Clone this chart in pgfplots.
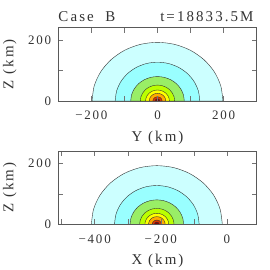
\documentclass[border=0pt]{standalone}
\usepackage{fontspec}
\setmainfont{Liberation Serif}
\newfontfamily\tickfont{Liberation Serif}[LetterSpace=14]
\newfontfamily\labfont{Liberation Serif}[LetterSpace=14]
\newfontfamily\titfont{Liberation Serif}[LetterSpace=14]
\usepackage{pgfplots}
\usepackage{pgfplotstable}
\pgfplotsset{compat=1.18}
\definecolor{cA}{HTML}{CCFFFF}
\definecolor{cB}{HTML}{99FFFF}
\definecolor{cC}{HTML}{99EE66}
\definecolor{cD}{HTML}{BBFF00}
\definecolor{cE}{HTML}{FFFF00}
\definecolor{cF}{HTML}{FFAA00}
\definecolor{cG}{HTML}{DD3300}
\definecolor{cH}{HTML}{880000}
\pgfplotstableread{
x y
198 0
191.3 49.7
171.5 96
140 135.7
99 166.3
51.3 185.5
0 192
-51.3 185.5
-99 166.3
-140 135.7
-171.5 96
-191.3 49.7
-198 0
}\cA
\pgfplotstableread{
x y
128 0
123.6 32.9
110.8 63.5
90.5 89.8
64 110
33.2 122.7
0 127
-33.2 122.7
-64 110
-90.5 89.8
-110.8 63.5
-123.6 32.9
-128 0
}\cB
\pgfplotstableread{
x y
81 0
78.2 20.7
70.1 40
57.3 56.6
40.5 69.3
21 77.3
0 80
-21 77.3
-40.5 69.3
-57.3 56.6
-70.1 40
-78.2 20.7
-81 0
}\cC
\pgfplotstableread{
x y
52 0
50.2 13.5
45 26
36.8 36.8
26 45
13.5 50.2
0 52
-13.5 50.2
-26 45
-36.8 36.8
-45 26
-50.2 13.5
-52 0
}\cD
\pgfplotstableread{
x y
36 0
34.8 9.3
31.2 18
25.5 25.5
18 31.2
9.3 34.8
0 36
-9.3 34.8
-18 31.2
-25.5 25.5
-31.2 18
-34.8 9.3
-36 0
}\cE
\pgfplotstableread{
x y
25 0
24.2 6.5
21.7 12.5
17.7 17.7
12.5 21.7
6.5 24.2
0 25
-6.5 24.2
-12.5 21.7
-17.7 17.7
-21.7 12.5
-24.2 6.5
-25 0
}\cF
\pgfplotstableread{
x y
14 0
12.1 7
7 12.1
0 14
-7 12.1
-12.1 7
-14 0
}\cG
\pgfplotstableread{
x y
7 0
6.1 3.5
3.5 6.1
0 7
-3.5 6.1
-6.1 3.5
-7 0
}\cH
\pgfplotsset{
  panel/.style={
    scale only axis, width=198.4bp, height=73.3bp,
    ymin=0, ymax=240,
    ytick={0,200}, yticklabels={0,200}, minor ytick={100},
    tick align=inside, major tick length=5bp, minor tick length=5bp,
    every tick/.style={black!55, thin},
    axis line style={black!65, thin},
    clip mode=individual,
    xticklabel style={font=\tickfont\fontsize{13}{13}\selectfont, text=black!80,
      anchor=center, inner sep=0pt, yshift=-14.5bp},
    yticklabel style={font=\tickfont\fontsize{13}{13}\selectfont, text=black!80,
      anchor=east, inner sep=0pt, xshift=-7bp},
    label style={font=\labfont\fontsize{15}{15}\selectfont, text=black!80},
    xlabel style={at={(rel axis cs:0.5,0)}, anchor=center, yshift=-36.5bp},
    ylabel style={at={(rel axis cs:-0.245,0.5)}, anchor=center},
    axis on top,
    ylabel={Z (km)},
  },
  contour/.style={draw=black!80, line width=0.4pt, smooth, fill=#1},
}
\begin{document}
\begin{tikzpicture}
\path[use as bounding box] (0,0) rectangle (270bp,270bp);
\begin{axis}[panel, at={(58.3bp,169bp)}, anchor=south west,
  xmin=-300, xmax=300, xtick={-200,0,200}, xticklabels={−200,0,200},
  minor xtick={-100,100},
  xlabel={Y (km)}]
\addplot[contour=cA] table {\cA} -- cycle;
\addplot[contour=cB] table {\cB} -- cycle;
\addplot[contour=cC] table {\cC} -- cycle;
\addplot[contour=cD] table {\cD} -- cycle;
\addplot[contour=cE] table {\cE} -- cycle;
\addplot[contour=cF] table {\cF} -- cycle;
\addplot[contour=cG] table {\cG} -- cycle;
\addplot[contour=cH] table {\cH} -- cycle;
\node[anchor=base west, inner sep=0pt, font=\titfont\fontsize{15}{15}\selectfont, text=black!80, yshift=6bp] at (rel axis cs:0.0,1) {Case\ \ B};
\node[anchor=base east, inner sep=0pt, font=\titfont\fontsize{15}{15}\selectfont, text=black!80, yshift=6bp] at (rel axis cs:0.985,1) {t=18833.5M};
\end{axis}
\begin{axis}[panel, at={(58.3bp,45.7bp)}, anchor=south west,
  xmin=-510, xmax=90, xtick={-400,-200,0}, xticklabels={−400,−200,0},
  minor xtick={-500,-300,-100},
  xlabel={X (km)}]
\addplot[contour=cA] table[x expr=\thisrow{x}-212] {\cA} -- cycle;
\addplot[contour=cB] table[x expr=\thisrow{x}-212] {\cB} -- cycle;
\addplot[contour=cC] table[x expr=\thisrow{x}-212] {\cC} -- cycle;
\addplot[contour=cD] table[x expr=\thisrow{x}-212] {\cD} -- cycle;
\addplot[contour=cE] table[x expr=\thisrow{x}-212] {\cE} -- cycle;
\addplot[contour=cF] table[x expr=\thisrow{x}-212] {\cF} -- cycle;
\addplot[contour=cG] table[x expr=\thisrow{x}-212] {\cG} -- cycle;
\addplot[contour=cH] table[x expr=\thisrow{x}-212] {\cH} -- cycle;
\end{axis}
\end{tikzpicture}
\end{document}
